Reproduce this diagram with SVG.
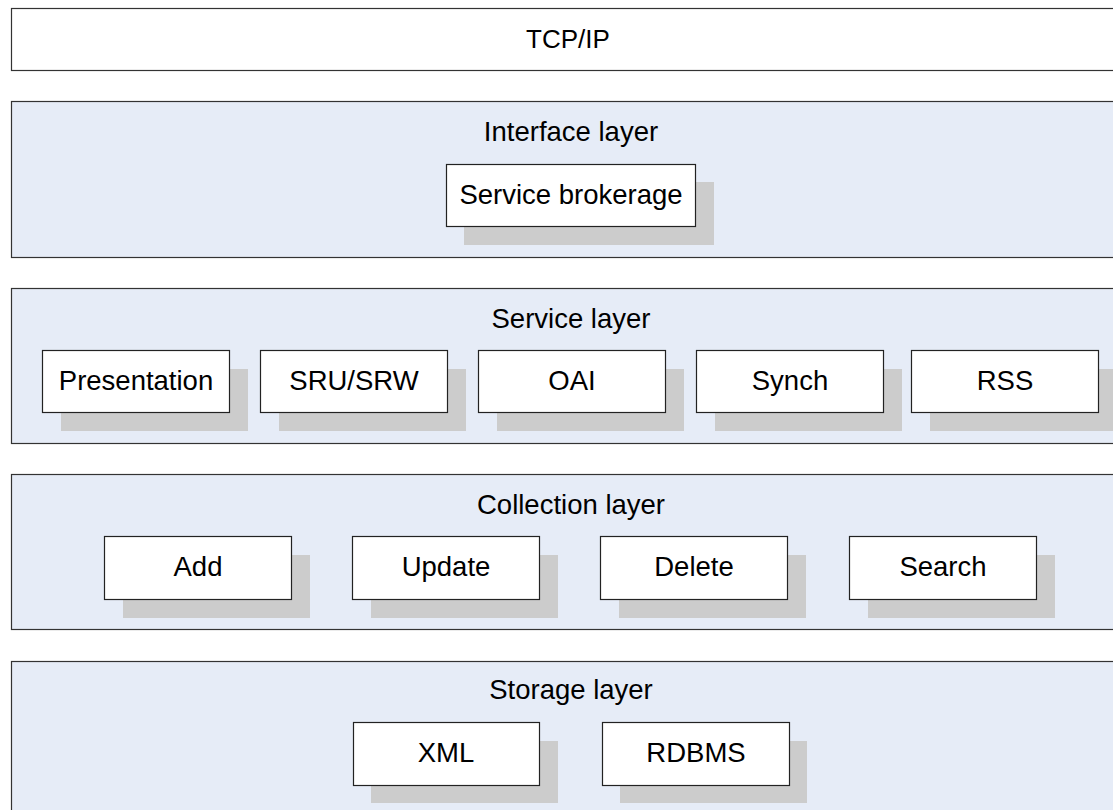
<svg xmlns="http://www.w3.org/2000/svg" width="1113" height="810" viewBox="0 0 1113 810">
<style>
.layer{fill:#e6ecf7;stroke:#333;stroke-width:1.2}
.top{fill:#fff;stroke:#333;stroke-width:1.2}
.box{fill:#fff;stroke:#222;stroke-width:1.2}
.sh{fill:#cccccc}
text{font-family:"Liberation Sans",Arial,sans-serif;font-size:27.5px;fill:#000;text-anchor:middle}
</style>
<rect width="1113" height="810" fill="#fff"/>
<g id="tcpip"><rect class="top" x="11.5" y="8.5" width="1120" height="62"/><text x="568" y="48" style="font-size:26px">TCP/IP</text></g>
<g id="interface-layer"><rect class="layer" x="11.5" y="101.5" width="1120" height="156"/><text x="571" y="141">Interface layer</text></g>
<g id="service-brokerage"><rect class="sh" x="464" y="182" width="250" height="63"/><rect class="box" x="446.5" y="164.5" width="249" height="62"/><text x="571" y="204">Service brokerage</text></g>
<g id="service-layer"><rect class="layer" x="11.5" y="288.5" width="1120" height="155"/><text x="571" y="328">Service layer</text></g>
<g id="presentation"><rect class="sh" x="61" y="369" width="187" height="62"/><rect class="box" x="42.5" y="350.5" width="187" height="62"/><text x="136" y="390">Presentation</text></g>
<g id="sru-srw"><rect class="sh" x="279" y="369" width="187" height="62"/><rect class="box" x="260.5" y="350.5" width="187" height="62"/><text x="354" y="390">SRU/SRW</text></g>
<g id="oai"><rect class="sh" x="497" y="369" width="187" height="62"/><rect class="box" x="478.5" y="350.5" width="187" height="62"/><text x="572" y="390">OAI</text></g>
<g id="synch"><rect class="sh" x="715" y="369" width="187" height="62"/><rect class="box" x="696.5" y="350.5" width="187" height="62"/><text x="790" y="390">Synch</text></g>
<g id="rss"><rect class="sh" x="930" y="369" width="187" height="62"/><rect class="box" x="911.5" y="350.5" width="187" height="62"/><text x="1005" y="390">RSS</text></g>
<g id="collection-layer"><rect class="layer" x="11.5" y="474.5" width="1120" height="155"/><text x="571" y="514">Collection layer</text></g>
<g id="add"><rect class="sh" x="123" y="555" width="187" height="63"/><rect class="box" x="104.5" y="536.5" width="187" height="63"/><text x="198" y="576">Add</text></g>
<g id="update"><rect class="sh" x="371" y="555" width="187" height="63"/><rect class="box" x="352.5" y="536.5" width="187" height="63"/><text x="446" y="576">Update</text></g>
<g id="delete"><rect class="sh" x="619" y="555" width="187" height="63"/><rect class="box" x="600.5" y="536.5" width="187" height="63"/><text x="694" y="576">Delete</text></g>
<g id="search"><rect class="sh" x="868" y="555" width="187" height="63"/><rect class="box" x="849.5" y="536.5" width="187" height="63"/><text x="943" y="576">Search</text></g>
<g id="storage-layer"><rect class="layer" x="11.5" y="661.5" width="1120" height="160"/><text x="571" y="699">Storage layer</text></g>
<g id="xml"><rect class="sh" x="371" y="741" width="187" height="62"/><rect class="box" x="353.5" y="722.5" width="186" height="63"/><text x="446" y="762">XML</text></g>
<g id="rdbms"><rect class="sh" x="620" y="741" width="187" height="62"/><rect class="box" x="602.5" y="722.5" width="187" height="63"/><text x="696" y="762">RDBMS</text></g>
<g id="connectors"></g>
</svg>
